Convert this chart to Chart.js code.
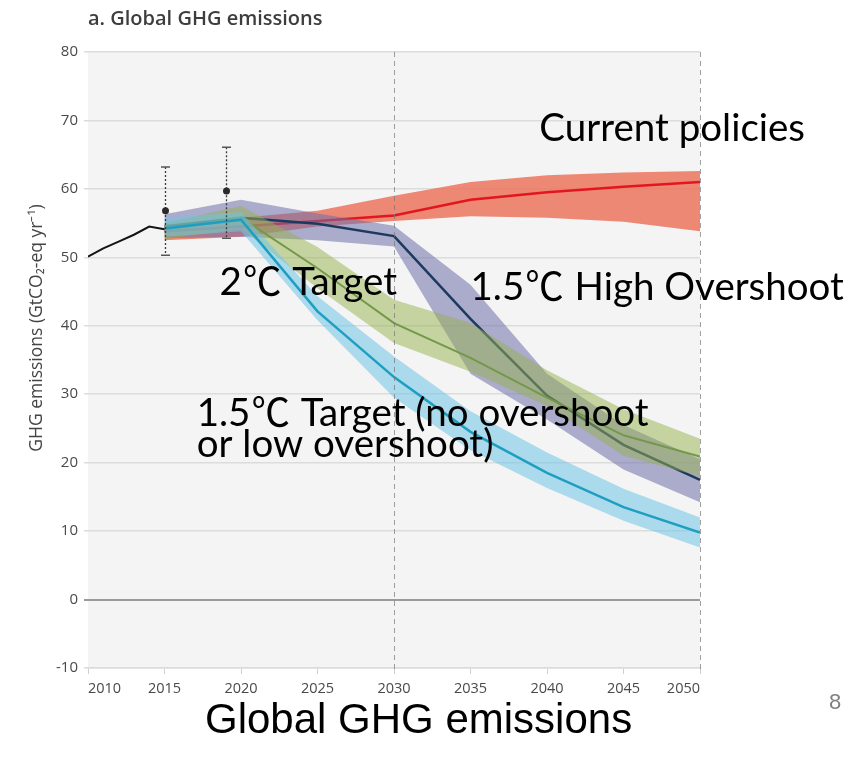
<!DOCTYPE html>
<html>
<head>
<meta charset="utf-8">
<script src="https://cdn.jsdelivr.net/npm/chart.js@4/dist/chart.umd.min.js"></script>
<style>
  html, body { margin: 0; padding: 0; background: #ffffff; }
  #wrap { position: relative; width: 861px; height: 758px; overflow: hidden; }
  canvas { display: block; }
</style>
</head>
<body>
<div id="wrap"><canvas id="ghg" width="861" height="758"></canvas></div>
<script>
// ---- Data (GtCO2-eq per year) ----
const historyYears = [2010, 2011, 2012, 2013, 2014, 2015];
const historyEmissions = [50.1, 51.3, 52.3, 53.3, 54.5, 54.1];

// Reported values with uncertainty ranges
const errorYears = [2015, 2019];
const errorCentral = [56.8, 59.7];
const errorLow = [50.3, 52.8];
const errorHigh = [63.2, 66.1];

const scenarioYears = [2015, 2020, 2025, 2030, 2035, 2040, 2045, 2050];

// Current policies
const policiesMedian = [53.8, 54.5, 55.3, 56.1, 58.4, 59.5, 60.3, 61.0];
const policiesHigh   = [54.8, 55.8, 56.8, 59.0, 61.0, 62.0, 62.4, 62.6];
const policiesLow    = [52.5, 53.0, 54.5, 55.3, 56.0, 55.8, 55.2, 53.8];

// 1.5°C high overshoot
const overshootMedian = [54.5, 55.8, 54.9, 53.1, 41.0, 29.8, 22.6, 17.5];
const overshootHigh   = [56.3, 58.4, 56.4, 54.6, 46.0, 33.0, 25.5, 20.5];
const overshootLow    = [52.8, 53.0, 52.5, 51.6, 33.0, 26.3, 19.0, 14.2];

// 2°C target
const twoDegMedian = [54.0, 55.8, 48.4, 40.4, 35.3, 29.5, 24.0, 20.9];
const twoDegHigh   = [55.0, 57.5, 51.5, 43.8, 40.4, 33.5, 27.8, 23.5];
const twoDegLow    = [52.6, 54.2, 45.5, 37.5, 33.3, 28.3, 21.0, 18.0];

// 1.5°C no or low overshoot
const lowOvershootMedian = [54.2, 55.5, 42.1, 32.5, 24.5, 18.5, 13.5, 9.8];
const lowOvershootHigh   = [55.8, 56.6, 44.3, 35.5, 27.5, 21.5, 16.2, 12.0];
const lowOvershootLow    = [53.0, 53.8, 40.8, 29.5, 21.8, 16.3, 11.5, 7.6];

const xTickValues = [2010, 2015, 2020, 2025, 2030, 2035, 2040, 2045, 2050];
const yTickValues = [-10, 0, 10, 20, 30, 40, 50, 60, 70, 80];
const markerYears = [2030, 2050];

// Scenario labels, anchored in data units (year, value at text baseline)
const scenarioLabels = [
  { lines: ['Current policies'], year: 2039.5, value: 67.0 },
  { lines: ['2\u2103 Target'], year: 2018.6, value: 44.5 },
  { lines: ['1.5\u2103 High Overshoot'], year: 2035.0, value: 43.8 },
  { lines: ['1.5\u2103 Target (no overshoot', 'or low overshoot)'], year: 2017.1, value: 25.4 }
];

const pts = (xs, ys) => xs.map((x, i) => ({ x: x, y: ys[i] }));

function band(high, low, fillColor, orderTop) {
  return [
    { data: pts(scenarioYears, high), borderWidth: 0, pointRadius: 0, fill: '+1',
      backgroundColor: fillColor, borderColor: 'rgba(0,0,0,0)', order: orderTop },
    { data: pts(scenarioYears, low), borderWidth: 0, pointRadius: 0, fill: false,
      borderColor: 'rgba(0,0,0,0)', order: orderTop - 1 }
  ];
}
function medianLine(values, color, width, order) {
  return { data: pts(scenarioYears, values), borderColor: color, borderWidth: width,
           pointRadius: 0, fill: false, order: order };
}

const datasets = [
  ...band(policiesHigh, policiesLow, 'rgba(236,112,88,0.82)', 13),
  medianLine(policiesMedian, '#e3161f', 2.5, 11),
  ...band(overshootHigh, overshootLow, 'rgba(112,112,172,0.55)', 10),
  medianLine(overshootMedian, '#1c3a5e', 2.5, 8),
  ...band(twoDegHigh, twoDegLow, 'rgba(150,178,78,0.5)', 7),
  medianLine(twoDegMedian, '#74984a', 2, 5),
  ...band(lowOvershootHigh, lowOvershootLow, 'rgba(112,196,230,0.55)', 4),
  medianLine(lowOvershootMedian, '#1e9fc2', 2.5, 2),
  { data: pts(historyYears, historyEmissions), borderColor: '#141414', borderWidth: 2,
    pointRadius: 0, fill: false, order: 1 }
];

const plotBackground = {
  id: 'plotBackground',
  beforeDraw(chart) {
    const { ctx, chartArea: a } = chart;
    ctx.save();
    ctx.fillStyle = '#f4f4f4';
    ctx.fillRect(a.left, a.top, a.right - a.left, a.bottom - a.top);
    ctx.restore();
  }
};

const markersAndErrors = {
  id: 'markersAndErrors',
  afterDatasetsDraw(chart) {
    const { ctx, chartArea: a, scales: { x, y } } = chart;
    ctx.save();
    // dashed year markers
    ctx.strokeStyle = 'rgba(120,120,120,0.7)';
    ctx.lineWidth = 1;
    ctx.setLineDash([5, 4]);
    markerYears.forEach(yr => {
      const px = Math.round(x.getPixelForValue(yr)) + 0.5;
      ctx.beginPath();
      ctx.moveTo(px, a.top);
      ctx.lineTo(px, a.bottom + 4);
      ctx.stroke();
    });
    // uncertainty ranges
    errorYears.forEach((yr, i) => {
      const px = Math.round(x.getPixelForValue(yr)) + 0.5;
      const yHi = y.getPixelForValue(errorHigh[i]);
      const yLo = y.getPixelForValue(errorLow[i]);
      const yC = y.getPixelForValue(errorCentral[i]);
      ctx.setLineDash([2, 2]);
      ctx.strokeStyle = '#3a3a3a';
      ctx.lineWidth = 1.3;
      ctx.beginPath();
      ctx.moveTo(px, yHi);
      ctx.lineTo(px, yLo);
      ctx.stroke();
      ctx.setLineDash([]);
      ctx.strokeStyle = '#555555';
      ctx.lineWidth = 1.5;
      ctx.beginPath();
      ctx.moveTo(px - 4.5, yHi); ctx.lineTo(px + 4.5, yHi);
      ctx.moveTo(px - 4.5, yLo); ctx.lineTo(px + 4.5, yLo);
      ctx.stroke();
      ctx.fillStyle = '#2a2a2a';
      ctx.beginPath();
      ctx.arc(px, yC, 3.5, 0, Math.PI * 2);
      ctx.fill();
    });
    ctx.restore();
  }
};

// Draws a label, using the CJK font for the degree-Celsius sign
function drawLabel(ctx, text, x, y, size) {
  const latin = size + 'px Lato, sans-serif';
  const cjk = size + 'px "Noto Sans CJK JP", "Noto Sans CJK SC", sans-serif';
  const parts = text.split('\u2103');
  let cx = x;
  parts.forEach((p, i) => {
    ctx.font = latin;
    ctx.fillText(p, cx, y);
    cx += ctx.measureText(p).width;
    if (i < parts.length - 1) {
      ctx.font = cjk;
      ctx.fillText('\u2103', cx + 1, y);
      cx += ctx.measureText('\u2103').width + 2;
    }
  });
}

const textLayer = {
  id: 'textLayer',
  afterDraw(chart) {
    const { ctx, scales: { x, y }, chartArea: a } = chart;
    ctx.save();
    ctx.textBaseline = 'alphabetic';
    ctx.textAlign = 'left';
    // panel title
    ctx.fillStyle = '#3d3d3d';
    ctx.font = '600 20px "Open Sans", sans-serif';
    ctx.fillText('a. Global GHG emissions', a.left, 25);
    // y-axis title
    ctx.save();
    ctx.translate(42, 328);
    ctx.rotate(-Math.PI / 2);
    ctx.textAlign = 'center';
    ctx.fillStyle = '#444444';
    ctx.font = '17.5px "Open Sans", sans-serif';
    ctx.fillText('GHG emissions (GtCO\u2082-eq yr\u207B\u00B9)', 0, 0);
    ctx.restore();
    // scenario labels
    ctx.fillStyle = '#000000';
    scenarioLabels.forEach(lbl => {
      const px = x.getPixelForValue(lbl.year);
      const py = y.getPixelForValue(lbl.value);
      lbl.lines.forEach((t, k) => drawLabel(ctx, t, px, py + k * 31, 38.5));
    });
    // caption and page number
    ctx.fillStyle = '#000000';
    ctx.font = '42px "Liberation Sans", Arial, sans-serif';
    ctx.fillText('Global GHG emissions', 205, 733);
    ctx.fillStyle = '#808080';
    ctx.font = '22px "Liberation Sans", Arial, sans-serif';
    ctx.fillText('8', 829, 709);
    ctx.restore();
  }
};

new Chart(document.getElementById('ghg'), {
  type: 'line',
  data: { datasets: datasets },
  plugins: [plotBackground, markersAndErrors, textLayer],
  options: {
    responsive: false,
    animation: false,
    devicePixelRatio: 1,
    layout: { padding: { left: 0, right: 161, top: 52, bottom: 0 } },
    elements: { line: { tension: 0 } },
    plugins: {
      legend: { display: false },
      tooltip: { enabled: false },
      filler: { drawTime: 'beforeDatasetDraw' }
    },
    scales: {
      x: {
        type: 'linear',
        min: 2010, max: 2050,
        afterFit(s) { s.height = 90; },
        afterBuildTicks(s) { s.ticks = xTickValues.map(v => ({ value: v })); },
        grid: { drawOnChartArea: false, drawTicks: true, tickLength: 6, color: '#cfcfcf' },
        border: { display: true, color: '#dcdcdc', width: 1.5 },
        ticks: {
          padding: 6, color: '#4a4a4a', maxRotation: 0, align: 'inner',
          font: { family: '"Open Sans", sans-serif', size: 14.5 },
          callback: v => String(v)
        }
      },
      y: {
        min: -10, max: 80,
        afterFit(s) { s.width = 88; },
        afterBuildTicks(s) { s.ticks = yTickValues.map(v => ({ value: v })); },
        grid: {
          drawTicks: true, tickLength: 4,
          color: c => c.tick && c.tick.value === 0 ? '#9a9a9a' : '#dcdcdc',
          lineWidth: c => c.tick && c.tick.value === 0 ? 2 : 1.5
        },
        border: { display: false },
        ticks: {
          padding: 6, color: '#4a4a4a',
          font: { family: '"Open Sans", sans-serif', size: 15 },
          callback: v => String(v)
        }
      }
    }
  }
});
</script>
</body>
</html>
